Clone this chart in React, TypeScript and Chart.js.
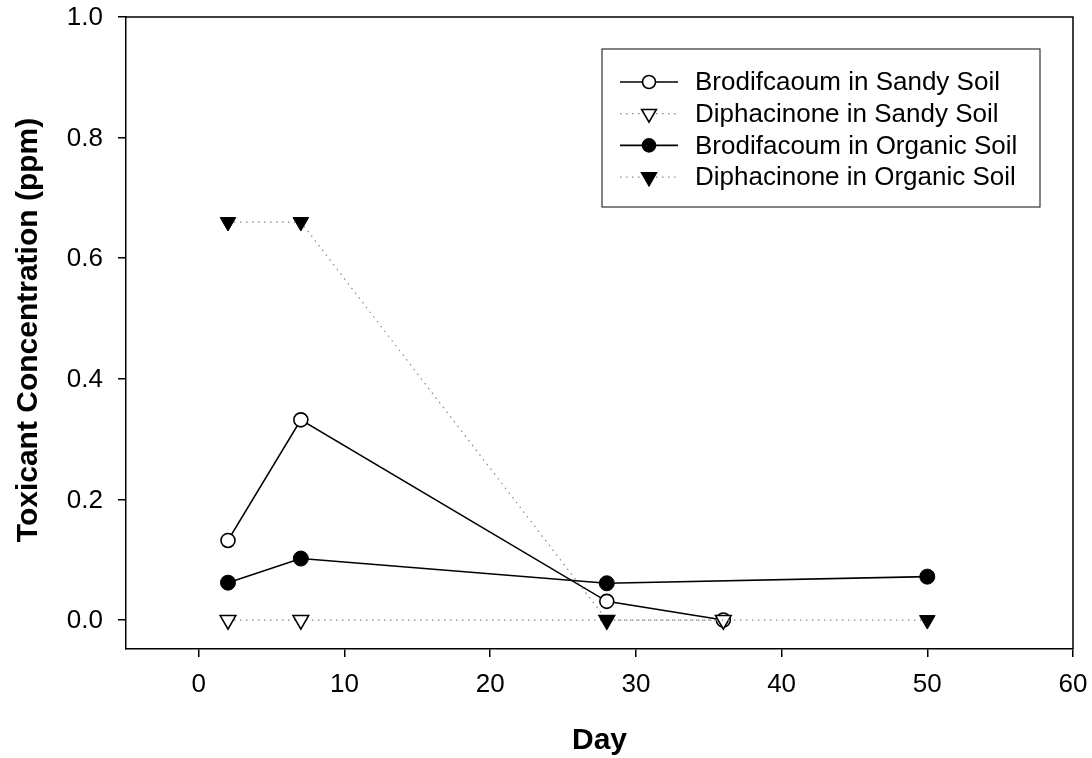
import React, { useEffect, useRef } from 'react';
import { Chart, registerables } from 'chart.js';

Chart.register(...registerables);

const seriesLabels = [
  'Brodifcaoum in Sandy Soil',
  'Diphacinone in Sandy Soil',
  'Brodifacoum in Organic Soil',
  'Diphacinone in Organic Soil',
];
const brodSandyX = [2, 7, 28, 36];
const brodSandyY = [0.132, 0.332, 0.031, 0.0];
const diphSandyX = [2, 7, 28, 36];
const diphSandyY = [0, 0, 0, 0];
const brodOrgX = [2, 7, 28, 50];
const brodOrgY = [0.062, 0.102, 0.061, 0.072];
const diphOrgX = [2, 7, 28, 50];
const diphOrgY = [0.66, 0.66, 0, 0];
const xTicks = [0, 10, 20, 30, 40, 50, 60];
const yTicks = [0, 0.2, 0.4, 0.6, 0.8, 1.0];
const xTitle = 'Day';
const yTitle = 'Toxicant Concentration (ppm)';

const FONT = '"Liberation Sans", Arial, sans-serif';
const LABEL_FONT = `26px ${FONT}`;
const TITLE_FONT = `bold 30px ${FONT}`;

const pts = (xs: number[], ys: number[]) => xs.map((x, i) => ({ x, y: ys[i] }));

function drawText(
  ctx: CanvasRenderingContext2D, text: string, x: number, y: number, font: string,
  align: CanvasTextAlign, baseline: CanvasTextBaseline = 'middle', rotate = false,
) {
  ctx.save();
  ctx.translate(x, y);
  if (rotate) ctx.rotate(-Math.PI / 2);
  ctx.font = font;
  ctx.fillStyle = '#000';
  ctx.textAlign = align;
  ctx.textBaseline = baseline;
  ctx.fillText(text, 0, 0);
  ctx.restore();
}

function drawMarker(ctx: CanvasRenderingContext2D, style: string, x: number, y: number, r: number, fill: string) {
  ctx.save();
  ctx.beginPath();
  if (style === 'circle') {
    ctx.arc(x, y, r, 0, Math.PI * 2);
  } else {
    const h = Math.sqrt(3) / 2;
    ctx.moveTo(x, y + r);
    ctx.lineTo(x - r * h, y - r / 2);
    ctx.lineTo(x + r * h, y - r / 2);
    ctx.closePath();
  }
  ctx.fillStyle = fill;
  ctx.fill();
  ctx.lineWidth = 1.6;
  ctx.strokeStyle = '#000';
  ctx.stroke();
  ctx.restore();
}

const framePlugin = {
  id: 'frameAndLegend',
  afterDraw(chart: any) {
    const ctx: CanvasRenderingContext2D = chart.ctx;
    const { left, top, right, bottom } = chart.chartArea;
    const xs = chart.scales.x;
    const ys = chart.scales.y;
    ctx.save();
    ctx.strokeStyle = '#000';
    ctx.lineWidth = 1.5;
    ctx.beginPath();
    ctx.moveTo(left, top);
    ctx.lineTo(right, top);
    ctx.lineTo(right, bottom);
    ctx.stroke();

    // tick labels (positions from the scales)
    xs.ticks.forEach((t: any) => {
      drawText(ctx, String(t.value), xs.getPixelForValue(t.value), 685, LABEL_FONT, 'center');
    });
    ys.ticks.forEach((t: any) => {
      drawText(ctx, Number(t.value).toFixed(1), 103, ys.getPixelForValue(t.value) + 1, LABEL_FONT, 'right');
    });

    // axis titles
    drawText(ctx, xTitle, (left + right) / 2, 749, TITLE_FONT, 'center', 'alphabetic');
    drawText(ctx, yTitle, 37, (top + bottom) / 2 - 3, TITLE_FONT, 'center', 'alphabetic', true);

    // legend
    const bx = 602, by = 49, bw = 438, bh = 158;
    ctx.lineWidth = 1.2;
    ctx.strokeStyle = '#333';
    ctx.strokeRect(bx, by, bw, bh);
    chart.data.datasets.forEach((ds: any, i: number) => {
      const y = 82 + i * 31.7;
      ctx.save();
      ctx.strokeStyle = ds.borderColor;
      ctx.lineWidth = ds.borderWidth;
      ctx.setLineDash(ds.borderDash || []);
      ctx.beginPath();
      ctx.moveTo(620, y);
      ctx.lineTo(678, y);
      ctx.stroke();
      ctx.restore();
      drawMarker(ctx, ds.legendStyle, 649, y, ds.legendStyle === 'circle' ? 6.5 : 8.5, ds.pointBackgroundColor);
      drawText(ctx, ds.label, 695, y + 1, LABEL_FONT, 'left');
    });
    ctx.restore();
  },
};

export default function App() {
  const ref = useRef<HTMLCanvasElement | null>(null);
  useEffect(() => {
    document.body.style.margin = '0';
    const canvas = ref.current!;
    const solid = { borderColor: '#000', borderWidth: 1.6, borderDash: [] as number[] };
    const dotted = { borderColor: '#888', borderWidth: 1.2, borderDash: [1.5, 4.5] };
    const chart = new Chart(canvas, {
      type: 'line',
      data: {
        datasets: [
          {
            label: seriesLabels[0], data: pts(brodSandyX, brodSandyY), ...solid,
            pointStyle: 'circle', pointRadius: 7, pointBackgroundColor: '#fff', pointBorderColor: '#000',
            pointBorderWidth: 1.6, order: 3, legendStyle: 'circle',
          } as any,
          {
            label: seriesLabels[1], data: pts(diphSandyX, diphSandyY), ...dotted,
            pointStyle: 'triangle', pointRotation: 180, pointRadius: 9, pointBackgroundColor: '#fff',
            pointBorderColor: '#000', pointBorderWidth: 1.6, order: 1, legendStyle: 'triangle',
          } as any,
          {
            label: seriesLabels[2], data: pts(brodOrgX, brodOrgY), ...solid,
            pointStyle: 'circle', pointRadius: 7.5, pointBackgroundColor: '#000', pointBorderColor: '#000',
            pointBorderWidth: 1, order: 2, legendStyle: 'circle',
          } as any,
          {
            label: seriesLabels[3], data: pts(diphOrgX, diphOrgY), ...dotted,
            pointStyle: 'triangle', pointRotation: 180, pointRadius: 9, pointBackgroundColor: '#000',
            pointBorderColor: '#000', pointBorderWidth: 1, order: 0, legendStyle: 'triangle',
          } as any,
        ],
      },
      options: {
        responsive: false,
        animation: false,
        devicePixelRatio: 1,
        layout: { padding: { left: 0, top: 17, right: 19, bottom: 0 } },
        plugins: { legend: { display: false }, tooltip: { enabled: false } },
        elements: { line: { tension: 0 } },
        scales: {
          x: {
            type: 'linear',
            min: -5,
            max: 60,
            afterBuildTicks: (s: any) => { s.ticks = xTicks.map((v) => ({ value: v })); },
            afterFit: (s: any) => { s.height = 109; s.paddingLeft = 0; s.paddingRight = 0; },
            ticks: { display: false },
            grid: { display: true, drawOnChartArea: false, drawTicks: true, tickLength: 8, color: '#000', lineWidth: 1.5 },
            border: { display: true, color: '#000', width: 1.5 },
            title: { display: false },
          },
          y: {
            type: 'linear',
            min: -0.048,
            max: 1.0,
            afterBuildTicks: (s: any) => { s.ticks = yTicks.map((v) => ({ value: v })); },
            afterFit: (s: any) => { s.width = 126; s.paddingTop = 0; s.paddingBottom = 0; },
            ticks: { display: false },
            grid: { display: true, drawOnChartArea: false, drawTicks: true, tickLength: 8, color: '#000', lineWidth: 1.5 },
            border: { display: true, color: '#000', width: 1.5 },
            title: { display: false },
          },
        },
      },
      plugins: [framePlugin],
    } as any);
    return () => chart.destroy();
  }, []);
  return <canvas ref={ref} width={1092} height={758} style={{ display: 'block' }} />;
}
